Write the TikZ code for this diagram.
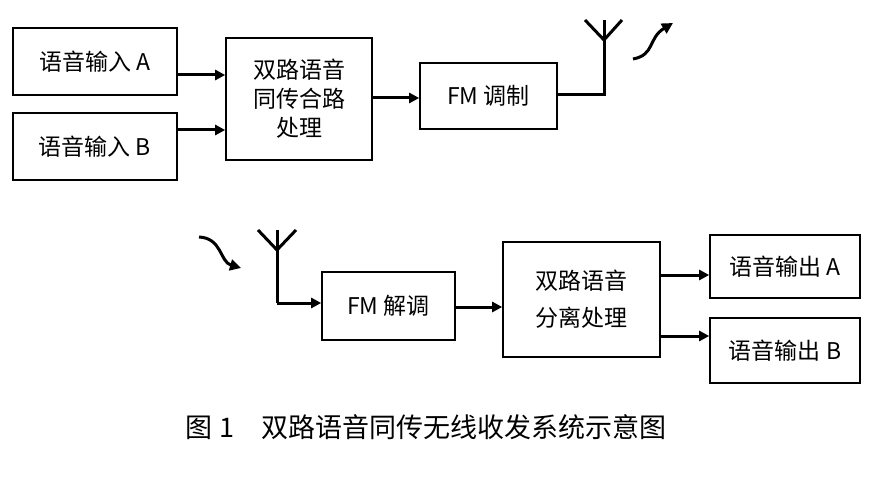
\documentclass[tikz,border=0pt]{standalone}
\usepackage{fontspec}
\newfontfamily\cjk{Noto Sans CJK SC}
\usetikzlibrary{arrows.meta}
\begin{document}
\begin{tikzpicture}[x=1pt,y=-1pt,
 box/.style={draw,line width=1.6pt,inner sep=0pt,font=\cjk\fontsize{23}{29}\selectfont,align=center},
 arr/.style={line width=3pt,-{Triangle[length=10pt,width=10pt]}},
 wire/.style={line width=3pt}]
\useasboundingbox (0,0) rectangle (886,500);
\node[box,minimum width=164pt,minimum height=67pt] (a) at (95,61.5) {语音输入 A};
\node[box,minimum width=164pt,minimum height=67pt] (b) at (95,146.5) {语音输入 B};
\node[box,minimum width=146pt,minimum height=122pt] (c) at (299,99) {双路语音\\同传合路\\处理};
\node[box,minimum width=137pt,minimum height=66pt] (m) at (488.5,96) {FM 调制};
\draw[arr] (177,75) -- (c.west|-0,75);
\draw[arr] (177,130) -- (c.west|-0,130);
\draw[arr] (c.east|-0,98) -- (m.west|-0,98);
\coordinate (t1) at (604,40);
\draw[wire] (m.east|-0,95) -- (604,95) -- (604,20);
\draw[wire] (585,20) -- (t1) -- (622,20);
\coordinate (w1) at (633,59); \coordinate (w2) at (673,23);
\draw[line width=3pt,-{Triangle[length=11pt,width=11pt]}] (w1) .. controls (655,55) and (648,38) .. (w2);
\node[box,minimum width=133pt,minimum height=68pt] (d) at (388.5,306) {FM 解调};
\node[box,minimum width=157pt,minimum height=115pt] (s) at (581.5,299.5) {双路语音\\[8pt]分离处理};
\node[box,minimum width=150pt,minimum height=63pt] (oa) at (785,266.5) {语音输出 A};
\node[box,minimum width=150pt,minimum height=65pt] (ob) at (785,350.5) {语音输出 B};
\coordinate (t2) at (277,250);
\draw[wire] (277,230) -- (277,303);
\draw[arr] (277,303) -- (d.west|-0,303);
\draw[wire] (258,230) -- (t2) -- (296,230);
\coordinate (v1) at (199,237); \coordinate (v2) at (241,268);
\draw[line width=3pt,-{Triangle[length=11pt,width=11pt]}] (v1) .. controls (222,238) and (220,262) .. (v2);
\draw[arr] (d.east|-0,307) -- (s.west|-0,307);
\draw[arr] (s.east|-0,275) -- (oa.west|-0,275);
\draw[arr] (s.east|-0,336) -- (ob.west|-0,336);
\node[font=\cjk\fontsize{27}{30}\selectfont] (cap) at (426,427) {图 1\quad 双路语音同传无线收发系统示意图};
\end{tikzpicture}
\end{document}
